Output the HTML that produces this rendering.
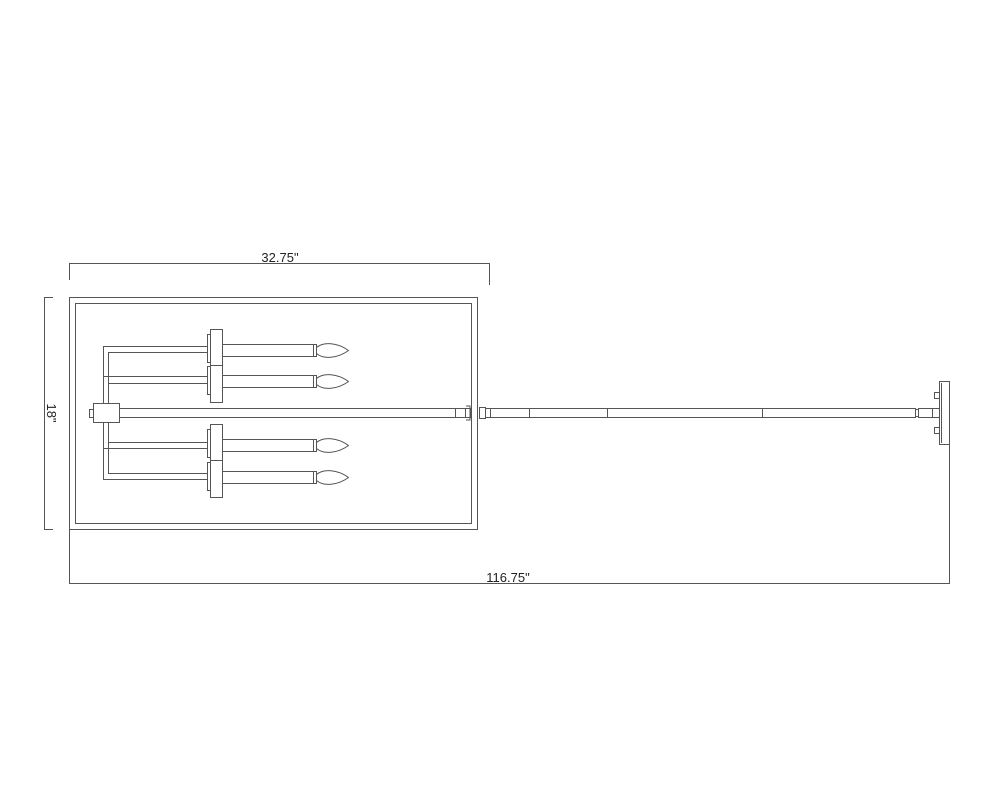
<!DOCTYPE html>
<html><head><meta charset="utf-8"><style>
html,body{margin:0;padding:0;background:#fff;width:1000px;height:800px;overflow:hidden}
svg{display:block}
text{font-family:"Liberation Sans",sans-serif;font-size:13px;fill:#222}
</style></head><body>
<svg width="1000" height="800" viewBox="0 0 1000 800" xmlns="http://www.w3.org/2000/svg">
<defs>
<g id="bulb">
<path d="M0,-6 L3,-6 L3,6 L0,6 Z" fill="#fff" stroke="#555"/>
<path d="M3,-3 C10,-9 24,-8 35,0 C24,8 10,9 3,3 Z" fill="#fff" stroke="#555"/>
</g>
</defs>
<g fill="none" stroke="#555" stroke-width="1">
<!-- dims -->
<polyline points="69.5,280 69.5,263.5 489.5,263.5 489.5,285"/>
<polyline points="53,297.5 44.5,297.5 44.5,529.5 53,529.5"/>
<polyline points="69.5,529 69.5,583.5 949.5,583.5 949.5,384"/>
<!-- frame -->
<rect x="69.5" y="297.5" width="408" height="232"/>
<rect x="75.5" y="303.5" width="396" height="220"/>
<!-- center rod -->
<rect x="119.5" y="408.5" width="351" height="9" fill="#fff"/>
<rect x="455.5" y="408.5" width="10" height="9"/>
<path d="M466,406 L470,406 L470,420 L466,420"/>
<!-- hub -->
<rect x="89.5" y="409.5" width="4" height="8"/>
<rect x="93.5" y="403.5" width="26" height="19" fill="#fff"/>
<!-- arms upper -->
<path d="M103.5,404 L103.5,346.5 L207.5,346.5 M108.5,404 L108.5,352.5 L207.5,352.5"/>
<path d="M103.5,376.5 L207.5,376.5 M108.5,383.5 L207.5,383.5"/>
<!-- arms lower -->
<path d="M103.5,422 L103.5,479.5 L207.5,479.5 M108.5,422 L108.5,473.5 L207.5,473.5"/>
<path d="M108.5,442.5 L207.5,442.5 M103.5,448.5 L207.5,448.5"/>
<!-- plates -->
<rect x="207.5" y="334.5" width="3" height="28" fill="#fff"/>
<rect x="207.5" y="366.5" width="3" height="28" fill="#fff"/>
<rect x="207.5" y="429.5" width="3" height="28" fill="#fff"/>
<rect x="207.5" y="462.5" width="3" height="28" fill="#fff"/>
<rect x="210.5" y="329.5" width="12" height="36" fill="#fff"/>
<rect x="210.5" y="365.5" width="12" height="37" fill="#fff"/>
<rect x="210.5" y="424.5" width="12" height="36" fill="#fff"/>
<rect x="210.5" y="460.5" width="12" height="37" fill="#fff"/>
<!-- candles -->
<rect x="222.5" y="344.5" width="91" height="12" fill="#fff"/>
<rect x="222.5" y="375.5" width="91" height="12" fill="#fff"/>
<rect x="222.5" y="439.5" width="91" height="12" fill="#fff"/>
<rect x="222.5" y="471.5" width="91" height="12" fill="#fff"/>
<use href="#bulb" x="313.5" y="350.5"/>
<use href="#bulb" x="313.5" y="381.5"/>
<use href="#bulb" x="313.5" y="445.5"/>
<use href="#bulb" x="313.5" y="477.5"/>
<!-- external rod -->
<rect x="479.5" y="407.5" width="6" height="11"/>
<rect x="485.5" y="408.5" width="430" height="9"/>
<path d="M490.5,408 V418 M529.5,408 V418 M607.5,408 V418 M762.5,408 V418"/>
<rect x="915.5" y="409.5" width="3" height="7"/>
<rect x="918.5" y="408.5" width="21" height="9"/>
<path d="M932.5,408 V418"/>
<!-- canopy -->
<rect x="939.5" y="381.5" width="10" height="63" fill="#fff"/>
<path d="M941.5,383 V443"/>
<rect x="934.5" y="392.5" width="5" height="6"/>
<rect x="934.5" y="427.5" width="5" height="6"/>
</g>
<text x="280" y="262" text-anchor="middle">32.75"</text>
<text x="508" y="582" text-anchor="middle">116.75"</text>
<text transform="translate(47,413) rotate(90)" text-anchor="middle">18"</text>
</svg>
</body></html>
